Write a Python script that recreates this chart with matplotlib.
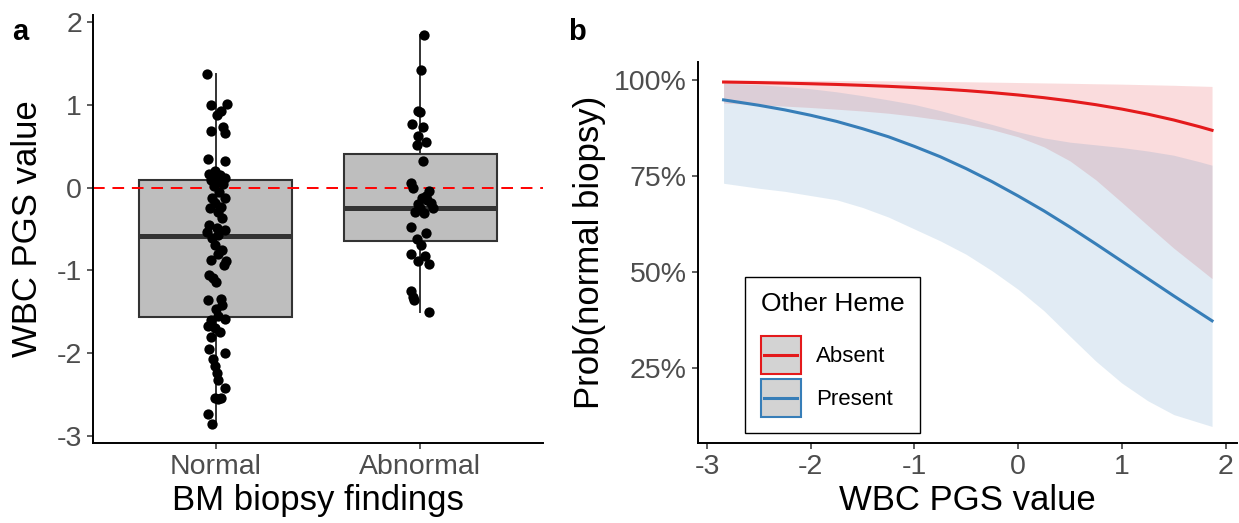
import numpy as np
import matplotlib.pyplot as plt
from matplotlib.patches import Rectangle
from matplotlib.lines import Line2D
from matplotlib.legend_handler import HandlerBase

plt.rcParams['font.family'] = ['Liberation Sans', 'DejaVu Sans']
plt.rcParams['axes.unicode_minus'] = False

# ---- panel a: WBC PGS by BM biopsy finding ----
groups = ["Normal", "Abnormal"]

normal_pgs = [1.38, 1.00, 1.01, 0.88, 0.93, 0.69, 0.66, 0.73, 0.35, 0.32,
              0.20, 0.17, 0.15, 0.12, 0.09, 0.08, 0.13, 0.05, 0.02,
              -0.05, -0.12, -0.13, -0.18, -0.23, -0.25, -0.29, -0.37,
              -0.45, -0.49, -0.51, -0.53, -0.57, -0.61, -0.69, -0.75, -0.80,
              -0.87, -0.89, -0.93, -1.06, -1.09, -1.14,
              -1.34, -1.36, -1.42, -1.47, -1.55, -1.59, -1.60,
              -1.67, -1.70, -1.74, -1.81, -1.95, -2.00, -2.07, -2.16,
              -2.24, -2.32, -2.42, -2.54, -2.54, -2.55, -2.74, -2.85]
normal_jit = [-0.045, -0.023, 0.053, 0.004, 0.026, -0.023, 0.044, 0.035, -0.040, 0.044,
              -0.005, -0.032, 0.021, 0.047, -0.023, 0.012, 0.000, 0.035, -0.009,
              0.018, -0.018, 0.047, -0.005, 0.026, -0.026, 0.012, 0.030,
              -0.032, 0.004, 0.047, -0.044, 0.012, -0.019, -0.005, 0.030, 0.009,
              -0.023, 0.051, 0.039, -0.035, -0.014, 0.000,
              0.026, -0.040, 0.030, 0.000, 0.009, 0.047, -0.023,
              -0.040, -0.005, 0.021, -0.023, -0.032, 0.044, -0.014, -0.005,
              0.004, 0.012, 0.047, -0.005, 0.026, 0.009, -0.040, -0.018]

abnormal_pgs = [1.85, 1.42, 0.93, 0.91, 0.77, 0.73, 0.62, 0.55, 0.52, 0.32,
                0.06, 0.00, -0.04, -0.10, -0.13, -0.15, -0.18, -0.20, -0.24, -0.24,
                -0.29, -0.31, -0.48, -0.55, -0.62, -0.69, -0.80, -0.83, -0.89,
                -0.92, -1.25, -1.32, -1.36, -1.50]
abnormal_jit = [0.018, 0.005, -0.012, 0.000, -0.039, 0.014, -0.012, 0.026, -0.018, 0.014,
                -0.044, -0.035, 0.044, 0.026, 0.009, 0.035, 0.053, -0.009, 0.000, 0.061,
                -0.026, 0.018, -0.044, 0.026, -0.018, 0.005, -0.044, 0.023, -0.009,
                0.040, -0.047, -0.035, -0.030, 0.044]

# box statistics: lower whisker, q1, median, q3, upper whisker
normal_box = [-2.85, -1.56, -0.58, 0.09, 1.38]
abnormal_box = [-1.50, -0.65, -0.24, 0.41, 1.85]

# ---- panel b: predicted probability of a normal biopsy (%) ----
pgs_grid = [-2.84, -2.5, -2.25, -2.0, -1.75, -1.5, -1.25, -1.0, -0.75, -0.5,
            -0.25, 0.0, 0.25, 0.5, 0.75, 1.0, 1.25, 1.5, 1.75, 1.87]
absent_fit = [99.45, 99.30, 99.16, 99.00, 98.82, 98.59, 98.33, 98.02, 97.65, 97.21,
              96.69, 96.08, 95.37, 94.53, 93.55, 92.41, 91.09, 89.57, 87.81, 86.89]
absent_lo = [93.98, 93.52, 93.18, 92.82, 92.38, 91.91, 91.33, 90.55, 89.61, 88.50,
             87.05, 85.20, 82.56, 78.92, 73.98, 68.13, 62.13, 56.22, 50.87, 48.28]
absent_hi = [99.95, 99.93, 99.91, 99.88, 99.84, 99.80, 99.75, 99.68, 99.60, 99.52,
             99.42, 99.32, 99.22, 99.12, 99.00, 98.90, 98.75, 98.60, 98.40, 98.30]
present_fit = [94.8, 93.4, 92.2, 90.8, 89.2, 87.3, 85.2, 82.7, 80.0, 76.9,
               73.5, 69.8, 65.9, 61.7, 57.3, 52.8, 48.3, 43.8, 39.4, 37.3]
present_lo = [73.1, 71.8, 71.0, 69.9, 68.8, 66.8, 64.3, 61.2, 58.1, 54.6,
              50.3, 45.5, 39.9, 33.3, 26.8, 21.1, 16.5, 12.9, 10.8, 9.8]
present_hi = [99.19, 98.76, 98.30, 97.70, 96.90, 95.90, 94.80, 93.60, 92.00, 90.20,
              88.40, 86.50, 84.90, 83.80, 83.10, 82.40, 81.50, 80.40, 78.70, 77.80]

red = "#E41A1C"
blue = "#377EB8"
tick_col = "#4D4D4D"


class RibbonKey(HandlerBase):
    # grey square with a coloured border and the line across its middle
    def create_artists(self, legend, orig_handle, xdescent, ydescent,
                       width, height, fontsize, trans):
        col = orig_handle.get_color()
        box = Rectangle((-xdescent, -ydescent), width, height, facecolor="#D3D3D3",
                        edgecolor=col, linewidth=1.5, transform=trans)
        yc = -ydescent + height / 2
        ln = Line2D([-xdescent + 0.08 * width, -xdescent + 0.92 * width], [yc, yc],
                    color=col, linewidth=2.2, transform=trans)
        return [box, ln]


fig = plt.figure(figsize=(12.39, 5.23), dpi=100)
ax1 = fig.add_axes([0.0751, 0.153, 0.3632, 0.818])
ax2 = fig.add_axes([0.5634, 0.153, 0.4346, 0.728])

for ax in (ax1, ax2):
    ax.spines[['top', 'right']].set_visible(False)
    ax.spines[['left', 'bottom']].set_linewidth(1.4)
    ax.tick_params(length=4, width=1.1, color="#333333", labelcolor=tick_col,
                   labelsize=20.5, pad=4)

# boxplots
stats = []
for name, b in zip(groups, [normal_box, abnormal_box]):
    stats.append(dict(label=name, whislo=b[0], q1=b[1], med=b[2], q3=b[3], whishi=b[4], fliers=[]))
ax1.bxp(stats, positions=[1, 2], widths=0.75, patch_artist=True, showcaps=False,
        boxprops=dict(facecolor="#BEBEBE", edgecolor="#333333", linewidth=1.5),
        whiskerprops=dict(color="#333333", linewidth=1.4),
        medianprops=dict(color="#333333", linewidth=3.6), zorder=1)
ax1.axhline(0, color="red", linestyle=(0, (6, 4)), linewidth=1.4, zorder=2)
ax1.scatter(1 + np.array(normal_jit), normal_pgs, s=55, color="black", zorder=3, linewidths=0)
ax1.scatter(2 + np.array(abnormal_jit), abnormal_pgs, s=55, color="black", zorder=3, linewidths=0)
ax1.set_xlim(0.4, 2.6)
ax1.set_ylim(-3.085, 2.085)
ax1.set_yticks([-3, -2, -1, 0, 1, 2])
ax1.set_xticks([1, 2])
ax1.set_xticklabels(groups)
ax1.set_xlabel("BM biopsy findings", fontsize=25, labelpad=3)
ax1.set_ylabel("WBC PGS value", fontsize=25, labelpad=9)

# probability curves with ribbons
ax2.fill_between(pgs_grid, absent_lo, absent_hi, color=red, alpha=0.15, linewidth=0)
ax2.fill_between(pgs_grid, present_lo, present_hi, color=blue, alpha=0.15, linewidth=0)
ax2.plot(pgs_grid, absent_fit, color=red, linewidth=2.2)
ax2.plot(pgs_grid, present_fit, color=blue, linewidth=2.2)
ax2.set_xlim(-3.086, 2.106)
ax2.set_ylim(5.5, 104.6)
ax2.set_xticks([-3, -2, -1, 0, 1, 2])
ax2.set_yticks([25, 50, 75, 100])
ax2.set_yticklabels(["25%", "50%", "75%", "100%"])
ax2.set_xlabel("WBC PGS value", fontsize=25, labelpad=3)
ax2.set_ylabel("Prob(normal biopsy)", fontsize=25, labelpad=6)

keys = [Line2D([], [], color=red), Line2D([], [], color=blue)]
leg = ax2.legend(keys, ["Absent", "Present"], title="Other Heme",
                 handler_map={Line2D: RibbonKey()},
                 loc="lower left", bbox_to_anchor=(745 / 1239, 1 - 433 / 523),
                 bbox_transform=fig.transFigure, borderaxespad=0,
                 fontsize=16, title_fontsize=19,
                 handlelength=1.8, handleheight=2.3, labelspacing=0.2,
                 handletextpad=0.7, borderpad=0.7, fancybox=False,
                 edgecolor="black", framealpha=1, alignment="left")
leg.get_frame().set_linewidth(1.0)
leg._legend_box.sep = 14

fig.text(12 / 1239, 1 - 40 / 523, "a", fontsize=21, fontweight="bold")
fig.text(568 / 1239, 1 - 40 / 523, "b", fontsize=21, fontweight="bold")

fig.savefig("out.png", dpi=100)
